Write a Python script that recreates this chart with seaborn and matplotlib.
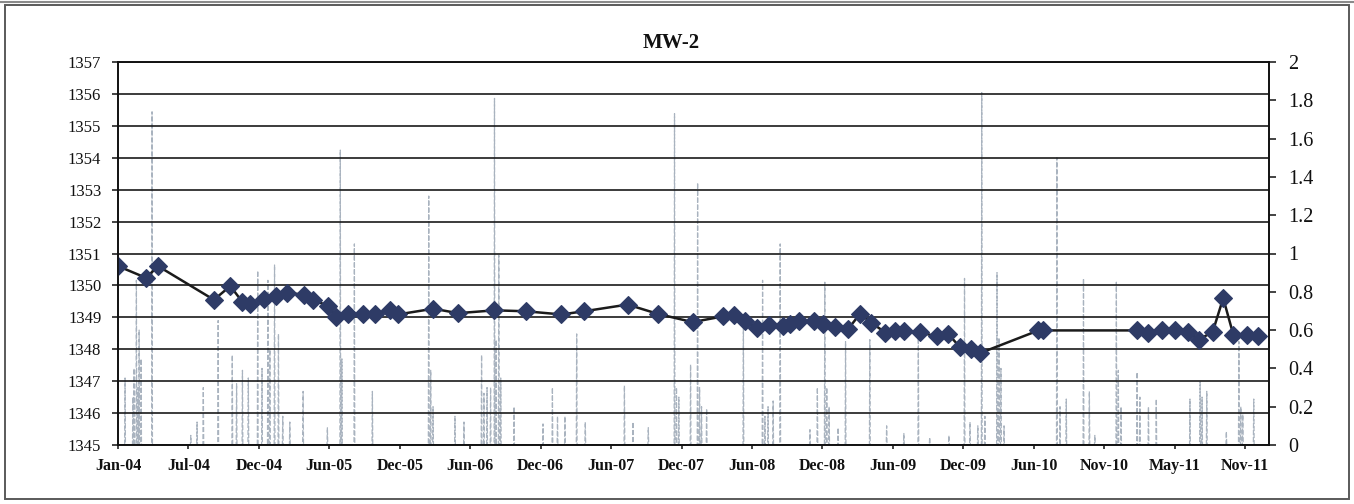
import matplotlib
matplotlib.use("Agg")
import matplotlib.pyplot as plt
import matplotlib.dates as mdates
from matplotlib.patches import Rectangle
import numpy as np
import pandas as pd
import seaborn as sns

# ---- Groundwater elevation at MW-2 (ft) ----
sample_dates = [
    "2004-01-05", "2004-03-15", "2004-04-16", "2004-09-05", "2004-10-17",
    "2004-11-17", "2004-12-07", "2005-01-11", "2005-02-11", "2005-03-11",
    "2005-04-22", "2005-05-17", "2005-06-24", "2005-07-14", "2005-08-14",
    "2005-09-20", "2005-10-21", "2005-11-30", "2005-12-19", "2006-03-20",
    "2006-05-22", "2006-08-23", "2006-11-11", "2007-02-10", "2007-04-09",
    "2007-07-29", "2007-10-14", "2008-01-11", "2008-03-29", "2008-04-26",
    "2008-05-24", "2008-06-24", "2008-07-24", "2008-08-29", "2008-09-16",
    "2008-10-09", "2008-11-16", "2008-12-10", "2009-01-09", "2009-02-12",
    "2009-03-14", "2009-04-12", "2009-05-18", "2009-06-11", "2009-07-05",
    "2009-08-14", "2009-09-27", "2009-10-26", "2009-11-24", "2009-12-22",
    "2010-01-15", "2010-06-13", "2010-06-25", "2011-02-19", "2011-03-21",
    "2011-04-24", "2011-05-28", "2011-07-01", "2011-07-27", "2011-09-01",
    "2011-09-28", "2011-10-24", "2011-11-27", "2011-12-27",
]
elevation_ft = [
    1350.60, 1350.24, 1350.60, 1349.55, 1349.98, 1349.48, 1349.43, 1349.58,
    1349.66, 1349.77, 1349.71, 1349.53, 1349.37, 1349.01, 1349.09, 1349.11,
    1349.11, 1349.24, 1349.09, 1349.27, 1349.13, 1349.22, 1349.19, 1349.09,
    1349.19, 1349.40, 1349.11, 1348.85, 1349.03, 1349.06, 1348.90, 1348.66,
    1348.77, 1348.73, 1348.79, 1348.89, 1348.87, 1348.79, 1348.69, 1348.64,
    1349.11, 1348.83, 1348.52, 1348.56, 1348.56, 1348.53, 1348.40, 1348.47,
    1348.07, 1348.02, 1347.88, 1348.59, 1348.59, 1348.59, 1348.52, 1348.59,
    1348.59, 1348.54, 1348.30, 1348.54, 1349.60, 1348.45, 1348.45, 1348.40,
]
# the record has no reading between these two surveys, so the line breaks
gap_after = "2004-12-07"

# ---- Daily precipitation (in) ----
rain_dates = [
    "2004-01-22", "2004-02-11", "2004-02-14", "2004-02-20", "2004-02-24",
    "2004-02-27", "2004-03-03", "2004-03-31", "2004-07-08", "2004-07-24",
    "2004-08-09", "2004-09-16", "2004-10-22", "2004-11-02", "2004-11-17",
    "2004-12-02", "2004-12-26", "2005-01-06", "2005-01-21", "2005-01-26",
    "2005-02-07", "2005-02-17", "2005-02-28", "2005-03-18", "2005-04-21",
    "2005-06-22", "2005-07-25", "2005-07-29", "2005-08-30", "2005-10-15",
    "2006-03-08", "2006-03-13", "2006-03-19", "2006-05-14", "2006-06-06",
    "2006-07-21", "2006-07-27", "2006-08-04", "2006-08-13", "2006-08-23",
    "2006-08-27", "2006-09-03", "2006-09-08", "2006-10-12", "2006-12-25",
    "2007-01-18", "2007-01-31", "2007-02-19", "2007-03-21", "2007-04-12",
    "2007-07-21", "2007-08-12", "2007-09-20", "2007-11-26", "2007-12-01",
    "2007-12-07", "2008-01-06", "2008-01-24", "2008-01-29", "2008-02-03",
    "2008-02-16", "2008-05-20", "2008-07-08", "2008-07-14", "2008-07-22",
    "2008-08-04", "2008-08-22", "2008-11-06", "2008-11-25", "2008-12-14",
    "2008-12-19", "2008-12-25", "2009-01-17", "2009-02-05", "2009-04-08",
    "2009-05-21", "2009-07-04", "2009-08-10", "2009-09-08", "2009-10-27",
    "2009-12-06", "2009-12-20", "2010-01-09", "2010-01-19", "2010-01-27",
    "2010-02-27", "2010-03-04", "2010-03-09", "2010-03-17", "2010-07-30",
    "2010-08-07", "2010-08-23", "2010-10-06", "2010-10-21", "2010-11-04",
    "2010-12-29", "2011-01-03", "2011-01-10", "2011-02-20", "2011-02-27",
    "2011-03-21", "2011-04-10", "2011-07-05", "2011-07-31", "2011-08-05",
    "2011-08-17", "2011-10-06", "2011-11-07", "2011-11-12", "2011-11-17",
    "2011-12-15",
]
rain_in = [
    0.35, 0.25, 0.40, 0.86, 0.30, 0.60, 0.45, 1.74, 0.05, 0.12,
    0.30, 0.65, 0.47, 0.32, 0.39, 0.35, 0.91, 0.40, 0.86, 0.50,
    0.94, 0.58, 0.15, 0.12, 0.28, 0.09, 1.54, 0.45, 1.05, 0.28,
    1.30, 0.39, 0.20, 0.15, 0.12, 0.47, 0.27, 0.30, 0.30, 1.81,
    0.55, 0.99, 0.35, 0.20, 0.11, 0.30, 0.15, 0.15, 0.58, 0.12,
    0.31, 0.12, 0.09, 1.73, 0.30, 0.25, 0.42, 1.37, 0.30, 0.20,
    0.19, 0.64, 0.86, 0.15, 0.20, 0.23, 1.05, 0.08, 0.30, 0.85,
    0.30, 0.20, 0.09, 0.54, 0.55, 0.10, 0.06, 0.56, 0.04, 0.05,
    0.87, 0.12, 0.10, 1.84, 0.15, 0.90, 0.56, 0.40, 0.10, 1.50,
    0.20, 0.24, 0.87, 0.28, 0.05, 0.85, 0.39, 0.20, 0.38, 0.25,
    0.20, 0.24, 0.24, 0.33, 0.25, 0.28, 0.07, 0.54, 0.20, 0.16,
    0.24,
]

left_ticks = list(range(1345, 1358))
right_ticks = [0, 0.2, 0.4, 0.6, 0.8, 1, 1.2, 1.4, 1.6, 1.8, 2]
axis_start, axis_end = "2004-01-04", "2012-01-23"
tick_step_days = 180

# ---- tables ----
elev = pd.DataFrame({"date": pd.to_datetime(sample_dates), "elev": elevation_ft})
elev["segment"] = (elev["date"] > pd.Timestamp(gap_after)).astype(int)

rain = pd.Series(rain_in, index=pd.to_datetime(rain_dates))
days = pd.date_range(axis_start, "2012-01-20", freq="D")
rain = rain.groupby(level=0).sum().reindex(days, fill_value=0.0)
rain_df = pd.DataFrame({"date": rain.index, "rain": rain.values})

# ---- style ----
sns.set_theme(style="white")
plt.rcParams["font.family"] = ["Liberation Serif", "DejaVu Serif"]
plt.rcParams["axes.linewidth"] = 1.2

W, H = 1354, 504
fig = plt.figure(figsize=(W / 100, H / 100), dpi=100)
fig.patch.set_facecolor("white")

px_left, px_right, px_top, px_bottom = 118, 1269, 62, 445
ax = fig.add_axes([px_left / W, 1 - px_bottom / H,
                   (px_right - px_left) / W, (px_bottom - px_top) / H])
ax2 = ax.twinx()

# precipitation on the secondary axis, drawn underneath
sns.lineplot(data=rain_df, x="date", y="rain", ax=ax2, color="#a9b3bf",
             linewidth=0.9, linestyle=(0, (4, 1.6)), legend=False)
ax2.set_ylim(0, 2)
ax2.set_yticks(right_ticks)
ax2.set_yticklabels([f"{v:g}" for v in right_ticks], fontsize=14.5)
ax2.set_ylabel("")
ax2.tick_params(axis="y", direction="out", length=5, width=1.1, pad=9,
                colors="#111111", right=True)

# elevation series on the primary axis, drawn above
ax.set_zorder(ax2.get_zorder() + 1)
ax.patch.set_visible(False)
ax.yaxis.grid(True, color="#1a1a1a", linewidth=1.2)
ax.set_axisbelow(True)
sns.lineplot(data=elev, x="date", y="elev", units="segment", estimator=None,
             ax=ax, color="#1b1b1b", linewidth=1.8, marker="D",
             markersize=9, markerfacecolor="#2e3b66",
             markeredgecolor="#2e3b66", markeredgewidth=0.8, legend=False)
ax.set_ylim(1345, 1357)
ax.set_yticks(left_ticks)
ax.set_yticklabels([str(v) for v in left_ticks], fontsize=12)
ax.set_xlabel("")
ax.set_ylabel("")

start = pd.Timestamp(axis_start)
xticks = [start + pd.Timedelta(days=tick_step_days * k) for k in range(17)]
ax.set_xlim(start, pd.Timestamp(axis_end))
ax.set_xticks(xticks)
ax.xaxis.set_major_formatter(mdates.DateFormatter("%b-%y"))
for lab in ax.get_xticklabels():
    lab.set_fontsize(11.5)
    lab.set_fontweight("bold")
ax.tick_params(axis="x", direction="out", length=3, width=1.1, pad=6,
               colors="#111111", bottom=True)
ax.tick_params(axis="y", direction="out", length=4, width=1.1, pad=8,
               colors="#111111", left=True)

for a in (ax, ax2):
    for s in a.spines.values():
        s.set_color("#111111")
        s.set_linewidth(1.2)

fig.text(671 / W, 1 - 43 / H, "MW-2", ha="center", va="center",
         fontsize=15, fontweight="bold", color="#111111")

# chart frame
fig.patches.append(Rectangle((5 / W, 5 / H), (W - 10) / W, (H - 10) / H,
                             transform=fig.transFigure, fill=False,
                             edgecolor="#5a5a5a", linewidth=1.4))
fig.add_artist(plt.Line2D([0, 1], [1 - 1.5 / H, 1 - 1.5 / H],
                          transform=fig.transFigure, color="#8a8a8a",
                          linewidth=1.5))

fig.savefig("out.png", dpi=100)
